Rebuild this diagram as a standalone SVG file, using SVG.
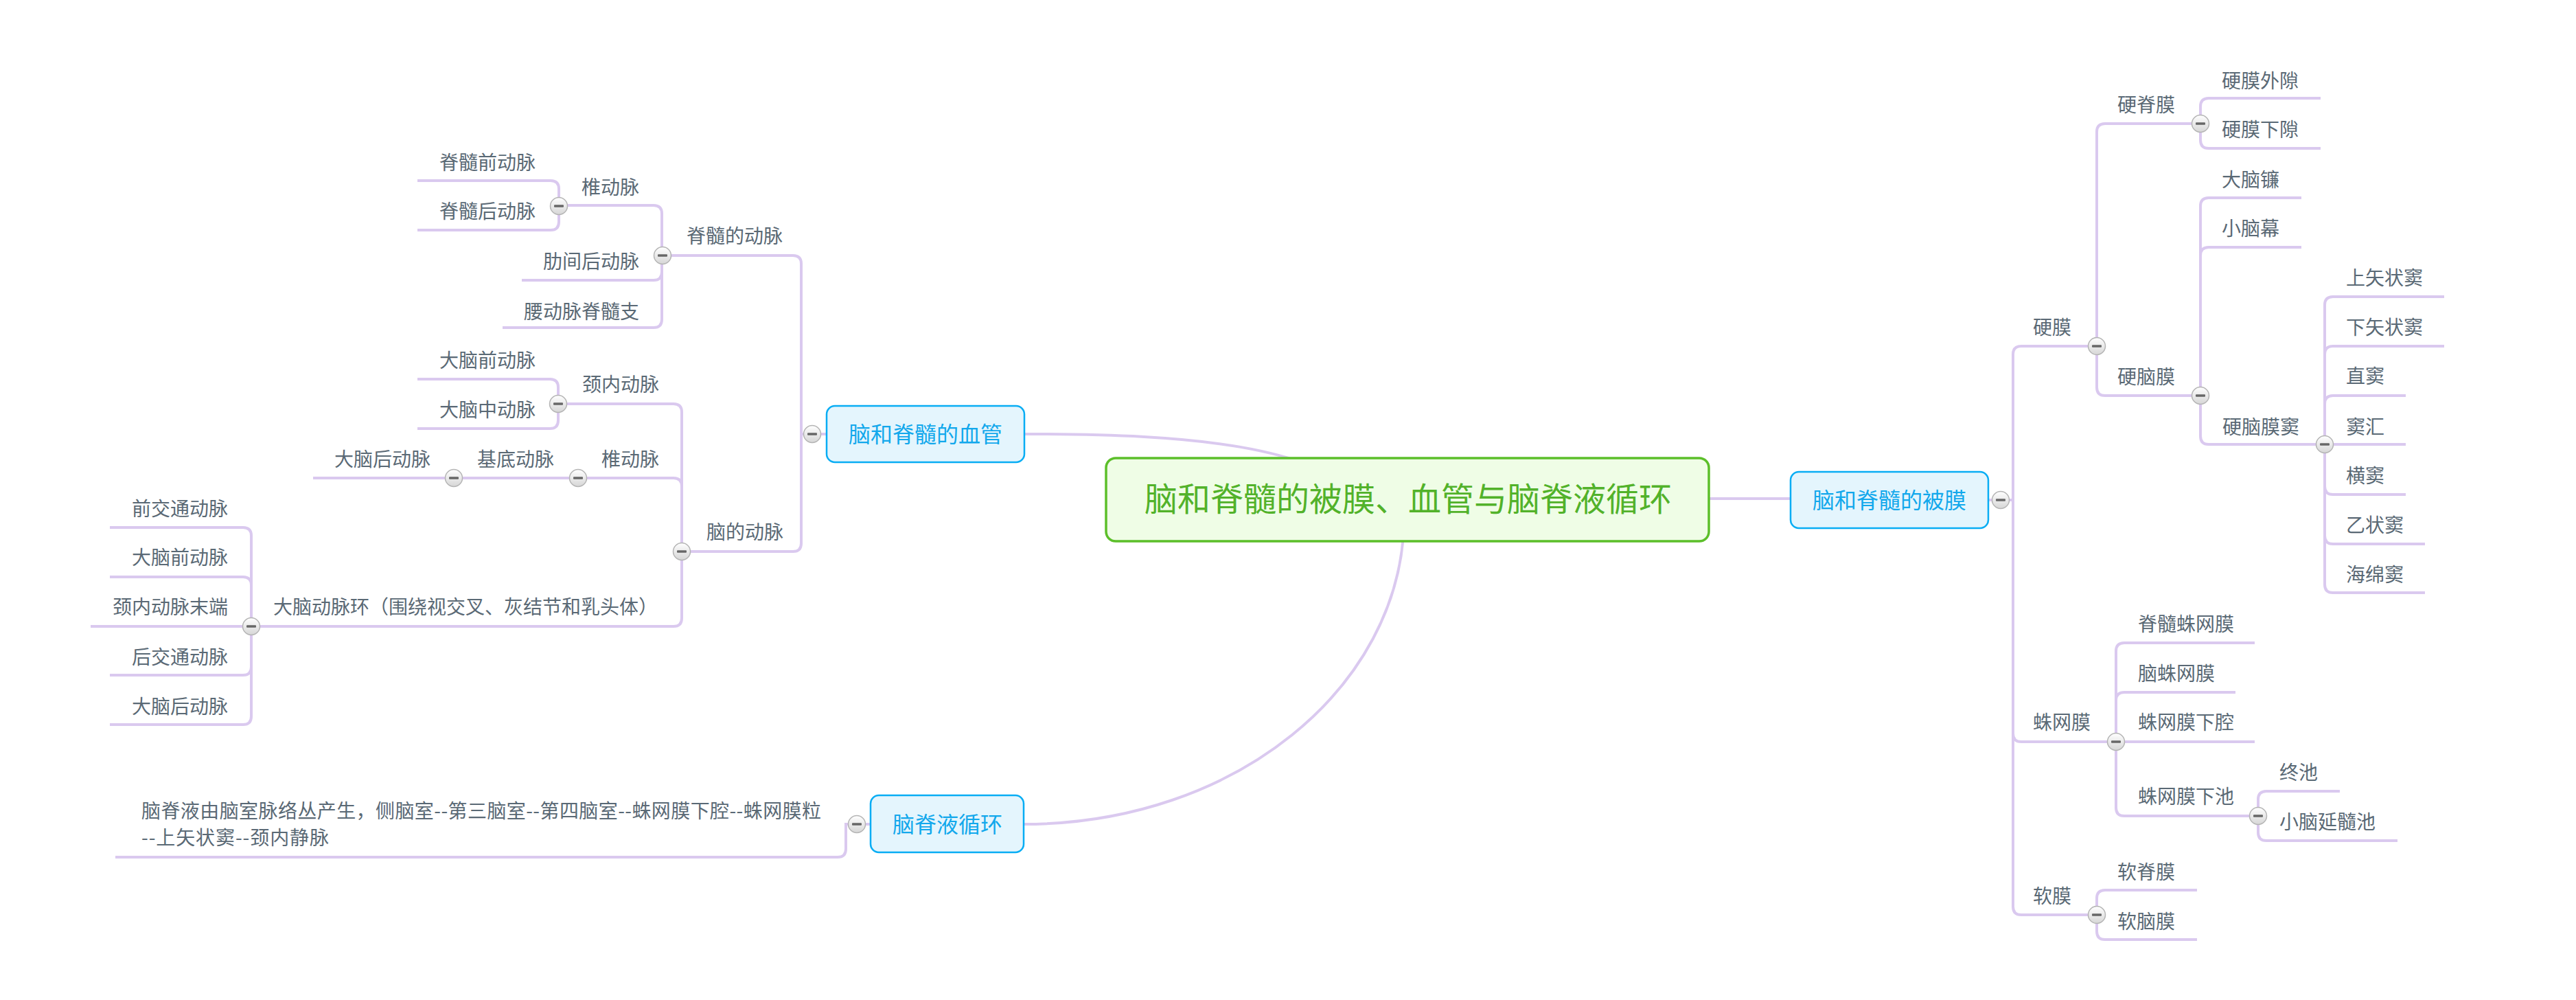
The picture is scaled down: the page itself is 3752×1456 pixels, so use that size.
<svg xmlns="http://www.w3.org/2000/svg" width="3752" height="1456" viewBox="0 0 3752 1456">
<style>
  .bg{fill:#ffffff}
  .ln{fill:none;stroke:#dac9ef;stroke-width:4}
  .t{font-family:"Noto Sans CJK SC","Noto Sans",sans-serif;font-size:28px;fill:#5a6975}
  .e{text-anchor:end}
  .m{font-family:"Noto Sans CJK SC","Noto Sans",sans-serif;font-size:32px;fill:#12a8ec;text-anchor:middle}
  .mb{fill:#e4f5fd;stroke:#08adf4;stroke-width:2.5}
  .cb{fill:#effde6;stroke:#5cbf2a;stroke-width:3.5}
  .ct{font-family:"Noto Sans CJK SC","Noto Sans",sans-serif;font-size:48px;fill:#52b22a;text-anchor:middle}
  .bc{fill:url(#bg);stroke:#b4b4b4;stroke-width:1.5}
  .bm{fill:#676767}
</style>
<defs>
  <linearGradient id="bg" x1="0" y1="0" x2="0" y2="1">
    <stop offset="0" stop-color="#ffffff"/>
    <stop offset="1" stop-color="#d6d6d6"/>
  </linearGradient>
  <g id="btn">
    <circle class="bc" cx="0" cy="0" r="12.5"/>
    <rect class="bm" x="-7" y="-1.8" width="14" height="3.6" rx="1"/>
  </g>
</defs>
<rect class="bg" x="0" y="0" width="3752" height="1456"/>

<g id="connectors">
  <!-- central to main branches -->
  <path class="ln" d="M1492,632 C1750,632 1900,650 2000,727"/>
  <path class="ln" d="M1491,1200 C1800,1200 2040,1000 2045,760"/>
  <path class="ln" d="M2480,726 H2608"/>
  <!-- 血管 -->
  <path class="ln" d="M1204,632 H1167 V384 Q1167,372 1155,372 H965"/>
  <path class="ln" d="M1167,632 V791 Q1167,803 1155,803 H993"/>
  <!-- 脊髓的动脉 -->
  <path class="ln" d="M964,372 V311 Q964,299 952,299 H814"/>
  <path class="ln" d="M964,372 V396 Q964,408 952,408 H760"/>
  <path class="ln" d="M964,372 V465 Q964,477 952,477 H732"/>
  <!-- 椎动脉 (脊髓) -->
  <path class="ln" d="M814,300 V275 Q814,263 802,263 H608"/>
  <path class="ln" d="M814,300 V323 Q814,335 802,335 H608"/>
  <!-- 脑的动脉 -->
  <path class="ln" d="M993,803 V600 Q993,588 981,588 H813"/>
  <path class="ln" d="M993,803 V708 Q993,696 981,696 H842"/>
  <path class="ln" d="M993,803 V900 Q993,912 981,912 H366"/>
  <!-- 颈内动脉 -->
  <path class="ln" d="M813,588 V564 Q813,552 801,552 H608"/>
  <path class="ln" d="M813,588 V612 Q813,624 801,624 H608"/>
  <!-- 椎动脉 / 基底动脉 -->
  <path class="ln" d="M842,696 H661"/>
  <path class="ln" d="M661,696 H456"/>
  <!-- 大脑动脉环 -->
  <path class="ln" d="M366,912 V780 Q366,768 354,768 H160"/>
  <path class="ln" d="M366,912 V852 Q366,840 354,840 H160"/>
  <path class="ln" d="M366,912 H132"/>
  <path class="ln" d="M366,912 V971 Q366,983 354,983 H160"/>
  <path class="ln" d="M366,912 V1043 Q366,1055 354,1055 H160"/>
  <!-- 脑脊液循环 -->
  <path class="ln" d="M1268,1200 H1232 V1236 Q1232,1248 1220,1248 H168"/>
  <!-- 被膜 -->
  <path class="ln" d="M2896,728 H2932 V516 Q2932,504 2944,504 H3054"/>
  <path class="ln" d="M2932,728 V1068 Q2932,1080 2944,1080 H3082"/>
  <path class="ln" d="M2932,728 V1320 Q2932,1332 2944,1332 H3054"/>
  <!-- 硬膜 -->
  <path class="ln" d="M3054,504 V192 Q3054,180 3066,180 H3205"/>
  <path class="ln" d="M3054,504 V564 Q3054,576 3066,576 H3205"/>
  <!-- 硬脊膜 -->
  <path class="ln" d="M3205,180 V155 Q3205,143 3217,143 H3380"/>
  <path class="ln" d="M3205,180 V204 Q3205,216 3217,216 H3380"/>
  <!-- 硬脑膜 -->
  <path class="ln" d="M3205,576 V300 Q3205,288 3217,288 H3352"/>
  <path class="ln" d="M3205,576 V372 Q3205,360 3217,360 H3352"/>
  <path class="ln" d="M3205,576 V635 Q3205,647 3217,647 H3386"/>
  <!-- 硬脑膜窦 -->
  <path class="ln" d="M3386,647 V444 Q3386,432 3398,432 H3560"/>
  <path class="ln" d="M3386,647 V516 Q3386,504 3398,504 H3560"/>
  <path class="ln" d="M3386,647 V588 Q3386,576 3398,576 H3504"/>
  <path class="ln" d="M3386,647 H3504"/>
  <path class="ln" d="M3386,647 V708 Q3386,720 3398,720 H3504"/>
  <path class="ln" d="M3386,647 V780 Q3386,792 3398,792 H3532"/>
  <path class="ln" d="M3386,647 V851 Q3386,863 3398,863 H3532"/>
  <!-- 蛛网膜 -->
  <path class="ln" d="M3082,1080 V948 Q3082,936 3094,936 H3284"/>
  <path class="ln" d="M3082,1080 V1020 Q3082,1008 3094,1008 H3256"/>
  <path class="ln" d="M3082,1080 H3284"/>
  <path class="ln" d="M3082,1080 V1176 Q3082,1188 3094,1188 H3289"/>
  <!-- 蛛网膜下池 -->
  <path class="ln" d="M3289,1188 V1164 Q3289,1152 3301,1152 H3408"/>
  <path class="ln" d="M3289,1188 V1212 Q3289,1224 3301,1224 H3492"/>
  <!-- 软膜 -->
  <path class="ln" d="M3054,1332 V1308 Q3054,1296 3066,1296 H3200"/>
  <path class="ln" d="M3054,1332 V1356 Q3054,1368 3066,1368 H3200"/>
</g>

<g id="central">
  <rect class="cb" x="1611" y="667" width="878" height="121" rx="14"/>
  <text class="ct" x="2051" y="744">脑和脊髓的被膜、血管与脑脊液循环</text>
</g>

<g id="n-xueguan">
  <rect class="mb" x="1204" y="591" width="288" height="82" rx="12"/>
  <text class="m" x="1348" y="644">脑和脊髓的血管</text>
  <use href="#btn" x="1183" y="632"/>
</g>
<g id="n-beimo">
  <rect class="mb" x="2608" y="687" width="288" height="82" rx="12"/>
  <text class="m" x="2752" y="740">脑和脊髓的被膜</text>
  <use href="#btn" x="2914" y="728"/>
</g>
<g id="n-naojiye">
  <rect class="mb" x="1268" y="1158" width="223" height="83" rx="12"/>
  <text class="m" x="1380" y="1212">脑脊液循环</text>
  <use href="#btn" x="1248" y="1200"/>
</g>

<!-- left side -->
<g id="n-jisuidedongmai"><text class="t e" x="1140" y="354">脊髓的动脉</text><use href="#btn" x="965" y="372"/></g>
<g id="n-zhuidongmai1"><text class="t e" x="931" y="283">椎动脉</text><use href="#btn" x="814" y="300"/></g>
<g id="n-jisuiqian"><text class="t e" x="780" y="247">脊髓前动脉</text></g>
<g id="n-jisuihou"><text class="t e" x="780" y="318">脊髓后动脉</text></g>
<g id="n-leijian"><text class="t e" x="931" y="391">肋间后动脉</text></g>
<g id="n-yaodongmai"><text class="t e" x="931" y="464">腰动脉脊髓支</text></g>
<g id="n-naodedongmai"><text class="t e" x="1141" y="785">脑的动脉</text><use href="#btn" x="993" y="803"/></g>
<g id="n-jingnei"><text class="t e" x="960" y="570">颈内动脉</text><use href="#btn" x="813" y="588"/></g>
<g id="n-danaoqian1"><text class="t e" x="780" y="535">大脑前动脉</text></g>
<g id="n-danaozhong"><text class="t e" x="780" y="607">大脑中动脉</text></g>
<g id="n-zhuidongmai2"><text class="t e" x="960" y="679">椎动脉</text><use href="#btn" x="842" y="696"/></g>
<g id="n-jidi"><text class="t e" x="807" y="679">基底动脉</text><use href="#btn" x="661" y="696"/></g>
<g id="n-danaohou1"><text class="t e" x="627" y="679">大脑后动脉</text></g>
<g id="n-huan"><text class="t e" x="958" y="894">大脑动脉环（围绕视交叉、灰结节和乳头体）</text><use href="#btn" x="366" y="912"/></g>
<g id="n-qianjiaotong"><text class="t e" x="332" y="751">前交通动脉</text></g>
<g id="n-danaoqian2"><text class="t e" x="332" y="822">大脑前动脉</text></g>
<g id="n-jingneimoduan"><text class="t e" x="332" y="894">颈内动脉末端</text></g>
<g id="n-houjiaotong"><text class="t e" x="332" y="967">后交通动脉</text></g>
<g id="n-danaohou2"><text class="t e" x="332" y="1039">大脑后动脉</text></g>
<g id="n-xunhuan">
  <text class="t" x="206" y="1191" textLength="990" lengthAdjust="spacing">脑脊液由脑室脉络丛产生，侧脑室--第三脑室--第四脑室--蛛网膜下腔--蛛网膜粒</text>
  <text class="t" x="206" y="1230" textLength="273" lengthAdjust="spacing">--上矢状窦--颈内静脉</text>
</g>

<!-- right side -->
<g id="n-yingmo"><text class="t" x="2961" y="487">硬膜</text><use href="#btn" x="3054" y="504"/></g>
<g id="n-yingjimo"><text class="t" x="3084" y="163">硬脊膜</text><use href="#btn" x="3205" y="180"/></g>
<g id="n-waixi"><text class="t" x="3236" y="128">硬膜外隙</text></g>
<g id="n-xiaxi"><text class="t" x="3236" y="199">硬膜下隙</text></g>
<g id="n-yingnaomo"><text class="t" x="3084" y="559">硬脑膜</text><use href="#btn" x="3205" y="576"/></g>
<g id="n-danaolian"><text class="t" x="3236" y="272">大脑镰</text></g>
<g id="n-xiaonaomu"><text class="t" x="3236" y="343">小脑幕</text></g>
<g id="n-yingnaomodou"><text class="t" x="3237" y="632">硬脑膜窦</text><use href="#btn" x="3386" y="647"/></g>
<g id="n-shangshi"><text class="t" x="3417" y="415">上矢状窦</text></g>
<g id="n-xiashi"><text class="t" x="3417" y="487">下矢状窦</text></g>
<g id="n-zhidou"><text class="t" x="3417" y="558">直窦</text></g>
<g id="n-douhui"><text class="t" x="3417" y="632">窦汇</text></g>
<g id="n-hengdou"><text class="t" x="3417" y="703">横窦</text></g>
<g id="n-yizhuang"><text class="t" x="3417" y="775">乙状窦</text></g>
<g id="n-haimian"><text class="t" x="3417" y="847">海绵窦</text></g>
<g id="n-zhuwangmo"><text class="t" x="2961" y="1062">蛛网膜</text><use href="#btn" x="3082" y="1080"/></g>
<g id="n-jisuizhuwang"><text class="t" x="3114" y="919">脊髓蛛网膜</text></g>
<g id="n-naozhuwang"><text class="t" x="3114" y="991">脑蛛网膜</text></g>
<g id="n-xiaqiang"><text class="t" x="3114" y="1062">蛛网膜下腔</text></g>
<g id="n-xiachi"><text class="t" x="3114" y="1170">蛛网膜下池</text><use href="#btn" x="3289" y="1188"/></g>
<g id="n-zhongchi"><text class="t" x="3320" y="1135">终池</text></g>
<g id="n-yansuichi"><text class="t" x="3320" y="1207">小脑延髓池</text></g>
<g id="n-ruanmo"><text class="t" x="2961" y="1315">软膜</text><use href="#btn" x="3054" y="1332"/></g>
<g id="n-ruanjimo"><text class="t" x="3084" y="1280">软脊膜</text></g>
<g id="n-ruannaomo"><text class="t" x="3084" y="1352">软脑膜</text></g>
</svg>
